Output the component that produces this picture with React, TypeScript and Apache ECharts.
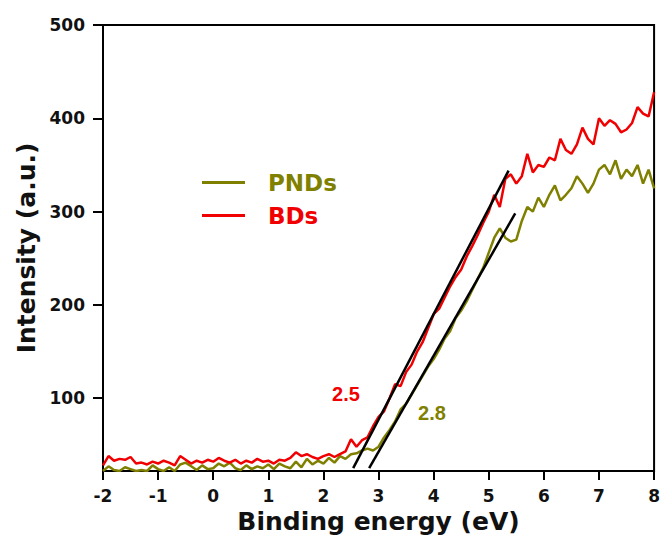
import React, { useEffect, useRef } from "react";
import * as echarts from "echarts";

const energy = [
  -2, -1.9, -1.8, -1.7, -1.6, -1.5, -1.4, -1.3, -1.2, -1.1,
  -1, -0.9, -0.8, -0.7, -0.6, -0.5, -0.4, -0.3, -0.2, -0.1,
  0, 0.1, 0.2, 0.3, 0.4, 0.5, 0.6, 0.7, 0.8, 0.9,
  1, 1.1, 1.2, 1.3, 1.4, 1.5, 1.6, 1.7, 1.8, 1.9,
  2, 2.1, 2.2, 2.3, 2.4, 2.5, 2.6, 2.7, 2.8, 2.9,
  3, 3.1, 3.2, 3.3, 3.4, 3.5, 3.6, 3.7, 3.8, 3.9,
  4, 4.1, 4.2, 4.3, 4.4, 4.5, 4.6, 4.7, 4.8, 4.9,
  5, 5.1, 5.2, 5.3, 5.4, 5.5, 5.6, 5.7, 5.8, 5.9,
  6, 6.1, 6.2, 6.3, 6.4, 6.5, 6.6, 6.7, 6.8, 6.9,
  7, 7.1, 7.2, 7.3, 7.4, 7.5, 7.6, 7.7, 7.8, 7.9,
  8,
];

const bdsValues = [
  28, 38, 33, 35, 34, 37, 30, 31, 29, 32,
  30, 33, 31, 28, 38, 34, 30, 33, 31, 34,
  32, 36, 33, 31, 34, 30, 33, 31, 35, 32,
  33, 30, 34, 33, 36, 42, 38, 40, 37, 35,
  38, 40, 37, 40, 43, 56, 48, 55, 58, 70,
  80, 86, 100, 115, 113, 128, 136, 150, 160, 175,
  190, 196, 208, 220, 230, 238, 252, 263, 275, 288,
  300, 318, 305, 335, 340, 330, 338, 362, 342, 350,
  348, 358, 355, 378, 366, 362, 372, 390, 378, 372,
  400, 392, 398, 394, 385, 388, 395, 412, 405, 402,
  428,
];

const pndsValues = [
  22, 27, 23, 22, 26, 24, 22, 23, 22, 28,
  24, 22, 26, 22, 29, 31, 27, 23, 28, 24,
  25, 30, 27, 31, 25, 23, 28, 24, 27, 25,
  29, 24, 30, 27, 25, 32, 26, 35, 29, 33,
  30, 36, 31, 38, 35, 40, 41, 44, 46, 44,
  48, 58, 66, 75, 88, 94, 104, 114, 124, 134,
  142, 152, 164, 172, 186, 194, 204, 216, 228, 240,
  256, 272, 282, 272, 268, 270, 290, 305, 300, 315,
  305, 318, 328, 312, 318, 325, 338, 330, 320, 330,
  345, 350, 340, 355, 335, 345, 338, 350, 330, 345,
  325,
];

const bdsFit = [
  [2.54, 25],
  [5.36, 344],
];
const pndsFit = [
  [2.83, 25],
  [5.48, 298],
];

const yTicks = [100, 200, 300, 400, 500];
const annotations = [
  { name: "2.5", value: [2.41, 104], series: "BDs" },
  { name: "2.8", value: [3.97, 84], series: "PNDs" },
];

const OLIVE = "#808000";
const RED = "#f00000";

export default function App() {
  const ref = useRef<HTMLDivElement>(null);

  useEffect(() => {
    if (!ref.current) return;
    const chart = echarts.init(ref.current, undefined, { renderer: "svg" });
    const colorOf = (s: string) => (s === "BDs" ? RED : OLIVE);
    const tickFont = {
      fontFamily: "DejaVu Sans",
      fontWeight: "bold" as const,
      fontSize: 17,
      color: "#111",
    };
    chart.setOption({
      animation: false,
      backgroundColor: "#fff",
      grid: {
        left: 103,
        top: 25,
        right: 7,
        bottom: 68,
        show: true,
        borderColor: "#000",
        borderWidth: 2,
        backgroundColor: "transparent",
      },
      legend: {
        orient: "vertical",
        left: 197,
        top: 166,
        itemWidth: 43,
        itemHeight: 3,
        itemGap: 10,
        icon: "rect",
        data: [
          { name: "PNDs", textStyle: { color: OLIVE } },
          { name: "BDs", textStyle: { color: RED } },
        ],
        textStyle: {
          fontFamily: "DejaVu Sans",
          fontWeight: "bold",
          fontSize: 23,
          padding: [0, 0, 0, 18],
        },
      },
      xAxis: {
        type: "value",
        min: -2,
        max: 8,
        interval: 1,
        name: "Binding energy (eV)",
        nameLocation: "middle",
        nameGap: 36,
        nameTextStyle: {
          fontFamily: "DejaVu Sans",
          fontWeight: "bold",
          fontSize: 25,
          color: "#111",
        },
        axisLine: { show: true, onZero: false, lineStyle: { color: "#000", width: 2 } },
        axisTick: { show: true, length: 9, lineStyle: { color: "#000", width: 2 } },
        axisLabel: { ...tickFont, margin: 16 },
        splitLine: { show: false },
      },
      yAxis: {
        type: "value",
        min: 22,
        max: 500,
        name: "Intensity (a.u.)",
        nameLocation: "middle",
        nameGap: 62,
        nameTextStyle: {
          fontFamily: "DejaVu Sans",
          fontWeight: "bold",
          fontSize: 25,
          color: "#111",
        },
        axisLine: { show: true, onZero: false, lineStyle: { color: "#000", width: 2 } },
        axisTick: {
          show: true,
          length: 10,
          customValues: yTicks,
          lineStyle: { color: "#000", width: 2 },
        },
        axisLabel: { ...tickFont, margin: 18, customValues: yTicks },
        splitLine: { show: false },
      },
      series: [
        {
          name: "PNDs",
          type: "line",
          data: energy.map((e, i) => [e, pndsValues[i]]),
          showSymbol: false,
          symbol: "none",
          lineStyle: { color: OLIVE, width: 2.5 },
          itemStyle: { color: OLIVE },
          z: 2,
        },
        {
          name: "BDs",
          type: "line",
          data: energy.map((e, i) => [e, bdsValues[i]]),
          showSymbol: false,
          symbol: "none",
          lineStyle: { color: RED, width: 2.5 },
          itemStyle: { color: RED },
          z: 3,
        },
        {
          name: "BDs fit",
          type: "line",
          data: bdsFit,
          symbol: "none",
          lineStyle: { color: "#000", width: 2.5 },
          z: 4,
        },
        {
          name: "PNDs fit",
          type: "line",
          data: pndsFit,
          symbol: "none",
          lineStyle: { color: "#000", width: 2.5 },
          z: 4,
        },
        {
          name: "labels",
          type: "scatter",
          symbolSize: 0,
          silent: true,
          itemStyle: { opacity: 1 },
          data: annotations.map((a) => ({
            name: a.name,
            value: a.value,
            label: {
              show: true,
              position: "inside",
              formatter: a.name,
              color: colorOf(a.series),
              opacity: 1,
              fontFamily: "Liberation Sans",
              fontWeight: "bold",
              fontSize: 20,
            },
          })),
          z: 5,
        },
      ],
    });
    return () => chart.dispose();
  }, []);

  return <div ref={ref} style={{ width: 663, height: 539, position: "absolute", left: 0, top: 0 }} />;
}
